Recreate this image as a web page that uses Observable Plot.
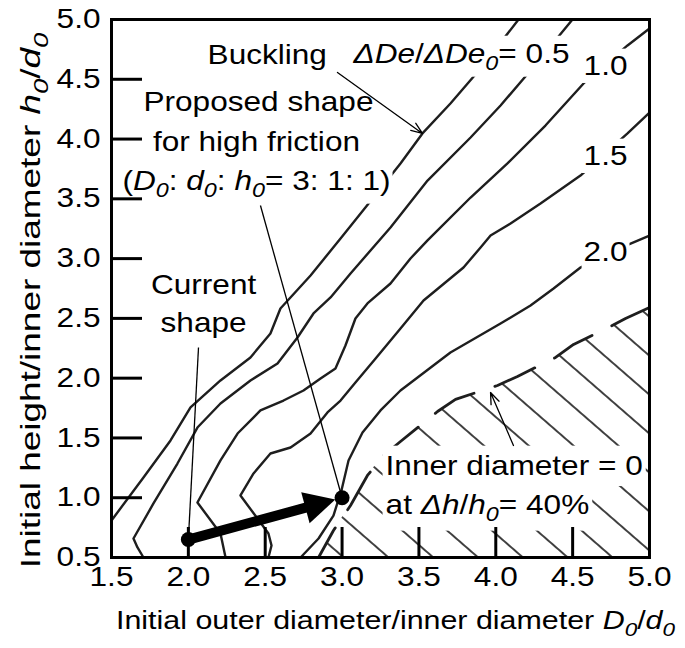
<!DOCTYPE html>
<html><head><meta charset="utf-8">
<script src="https://cdn.jsdelivr.net/npm/d3@7"></script>
<script src="https://cdn.jsdelivr.net/npm/@observablehq/plot@0.6"></script>
<style>
html,body{margin:0;padding:0;background:#fff;}
#chart svg{display:block;}
</style></head><body><div id="chart"></div>
<script>
// ---------- axis ticks ----------
const xTicks = [1.5, 2.0, 2.5, 3.0, 3.5, 4.0, 4.5, 5.0];
const yTicks = [0.5, 1.0, 1.5, 2.0, 2.5, 3.0, 3.5, 4.0, 4.5, 5.0];
const xTitle = "Initial outer diameter/inner diameter *D*_0_/*d*_0_";
const yTitle = "Initial height/inner diameter *h*_0_/*d*_0_";

// ---------- contour lines (x = D0/d0, y = h0/d0) ----------
const buckX = [1.500, 1.708, 1.884, 2.014, 2.209, 2.404, 2.534, 2.599, 2.795, 2.990, 3.204, 3.380, 3.523, 3.705, 3.901, 4.148];
const buckY = [0.810, 1.169, 1.479, 1.755, 1.981, 2.173, 2.374, 2.583, 2.859, 3.168, 3.511, 3.796, 4.047, 4.297, 4.590, 5.000];

const c05X = [1.708, 1.669, 1.643, 1.773, 1.929, 2.059, 2.209, 2.404, 2.580, 2.710, 2.814, 2.925, 3.055, 3.315, 3.556, 3.836, 4.031, 4.226, 4.499];
const c05Y = [0.500, 0.584, 0.659, 0.952, 1.286, 1.587, 1.788, 1.981, 2.123, 2.340, 2.541, 2.675, 2.876, 3.260, 3.653, 4.013, 4.281, 4.573, 5.000];

const c10X = [2.242, 2.209, 2.059, 2.209, 2.320, 2.469, 2.619, 2.749, 2.860, 2.957, 3.022, 3.087, 3.165, 3.315, 3.445, 3.556, 3.836, 4.076, 4.323, 4.571, 4.857, 5.000];
const c10Y = [0.500, 0.701, 0.960, 1.312, 1.537, 1.730, 1.813, 1.897, 1.997, 2.081, 2.273, 2.499, 2.625, 2.792, 3.001, 3.152, 3.511, 3.796, 4.113, 4.465, 4.783, 4.925];

const c15X = [2.521, 2.541, 2.521, 2.339, 2.424, 2.534, 2.665, 2.795, 2.905, 2.990, 3.087, 3.218, 3.380, 3.530, 3.790, 3.901, 3.966, 4.096, 4.291, 4.551, 4.857, 5.000];
const c15Y = [0.500, 0.600, 0.701, 1.019, 1.203, 1.370, 1.420, 1.537, 1.713, 1.813, 1.964, 2.165, 2.416, 2.650, 2.926, 3.093, 3.193, 3.294, 3.461, 3.695, 4.047, 4.222];

const c20X = [2.730, 2.847, 2.944, 2.996, 3.042, 3.133, 3.250, 3.380, 3.705, 4.031, 4.226, 4.376, 4.551, 4.727, 5.000];
const c20Y = [0.500, 0.659, 0.851, 1.061, 1.312, 1.546, 1.730, 1.897, 2.215, 2.457, 2.608, 2.750, 2.926, 3.043, 3.193];

// inner diameter = 0 at 40 % reduction (dashed boundary, hatched below)
const innerX = [2.847, 2.944, 3.055, 3.165, 3.270, 3.380, 3.621, 3.738, 4.011, 4.141, 4.389, 4.506, 4.733, 4.844, 5.000];
const innerY = [0.500, 0.726, 0.935, 1.186, 1.353, 1.470, 1.721, 1.822, 1.939, 2.014, 2.173, 2.282, 2.424, 2.499, 2.591];

// ---------- shapes ----------
const shapeName = ["Current", "Proposed"];
const shapeX = [2.0, 3.0];
const shapeY = [0.65, 1.0];

// ---------- labels ----------
const startText = ["Buckling", "*ΔDe*/*ΔDe*_0_= 0.5", "Inner diameter = 0", "at *Δh*/*h*_0_= 40%"];
const startX = [2.125, 3.074, 3.283, 3.283];
const startY = [4.624, 4.640, 1.186, 0.868];

const midText = ["Proposed shape", "for high friction", "(*D*_0_: *d*_0_: *h*_0_= 3: 1: 1)", "Current", "shape", "1.0", "1.5", "2.0"];
const midX = [2.456, 2.443, 2.443, 2.099, 2.099, 4.714, 4.714, 4.714];
const midY = [4.231, 3.904, 3.578, 2.708, 2.382, 4.532, 3.779, 2.984];

// ---------- pointers ----------
const ptrX1 = [2.970, 4.115, 2.469, 2.066];
const ptrY1 = [4.557, 1.437, 3.444, 2.257];
const ptrX2 = [3.523, 3.966, 3.000, 2.000];
const ptrY2 = [4.047, 1.880, 1.000, 0.650];
const ptrHead = [true, true, false, false];

// ---------- build tables ----------
const zip = (id, xs, ys) => xs.map((x, i) => ({id, x, y: ys[i]}));
const contourRows = [
  ...zip("buckling", buckX, buckY),
  ...zip("0.5", c05X, c05Y),
  ...zip("1.0", c10X, c10Y),
  ...zip("1.5", c15X, c15Y),
  ...zip("2.0", c20X, c20Y)
];
const innerRows = zip("inner", innerX, innerY);
const startRows = startText.map((t, i) => ({t, x: startX[i], y: startY[i]}));
const midRows = midText.map((t, i) => ({t, x: midX[i], y: midY[i]}));
const ptrRows = ptrX1.map((x1, i) => ({x1, y1: ptrY1[i], x2: ptrX2[i], y2: ptrY2[i], head: ptrHead[i]}));
const shapeRows = shapeName.map((n, i) => ({n, x: shapeX[i], y: shapeY[i]}));
const moveRows = [{x1: shapeX[0], y1: shapeY[0], x2: shapeX[1], y2: shapeY[1]}];

// ---------- layout ----------
const W = 685, H = 648, mL = 111, mR = 36, mT = 19, mB = 91;
const xDom = [1.5, 5.0], yDom = [0.5, 5.0];
const kx = (W - mL - mR) / (xDom[1] - xDom[0]);
const ky = (H - mT - mB) / (yDom[1] - yDom[0]);
const theta = Math.atan2(-(shapeY[1] - shapeY[0]) * ky, (shapeX[1] - shapeX[0]) * kx);
const headSymbol = {
  draw(ctx) {
    const c = Math.cos(theta), s = Math.sin(theta);
    const tip = 7, L = 31, hw = 16;
    const tx = -tip * c, ty = -tip * s;
    const bx = tx - L * c, by = ty - L * s;
    ctx.moveTo(tx, ty);
    ctx.lineTo(bx - hw * s, by + hw * c);
    ctx.lineTo(bx + hw * s, by - hw * c);
    ctx.closePath();
  }
};
const FONT = 27;

const svg = Plot.plot({
  width: W, height: H,
  marginLeft: mL, marginRight: mR, marginTop: mT, marginBottom: mB,
  x: {domain: xDom},
  y: {domain: yDom},
  style: {fontFamily: "'Liberation Sans', Arial, sans-serif", fontSize: FONT + "px", background: "white", color: "black"},
  marks: [
    Plot.areaY(innerRows, {x: "x", y1: yDom[0], y2: "y", fill: "url(#hatch)"}),
    Plot.line(contourRows, {x: "x", y: "y", z: "id", stroke: "#1e1e1e", strokeWidth: 2.4, strokeLinejoin: "round"}),
    Plot.line(innerRows, {x: "x", y: "y", stroke: "#1e1e1e", strokeWidth: 2.8, strokeDasharray: "44,22", strokeDashoffset: 10}),
    Plot.text(startRows, {x: "x", y: "y", text: "t", textAnchor: "start", lineAnchor: "bottom", fontSize: FONT, fill: "black"}),
    Plot.text(midRows, {x: "x", y: "y", text: "t", textAnchor: "middle", lineAnchor: "bottom", fontSize: FONT, fill: "black"}),
    Plot.arrow(ptrRows.filter(d => d.head), {x1: "x1", y1: "y1", x2: "x2", y2: "y2", stroke: "black", strokeWidth: 1.3, headLength: 14, headAngle: 42}),
    Plot.link(ptrRows.filter(d => !d.head), {x1: "x1", y1: "y1", x2: "x2", y2: "y2", stroke: "black", strokeWidth: 1.3}),
    Plot.arrow(moveRows, {x1: "x1", y1: "y1", x2: "x2", y2: "y2", stroke: "black", strokeWidth: 10, headLength: 0, insetEnd: 32}),
    Plot.dot(shapeRows.filter(d => d.n === "Proposed"), {x: "x", y: "y", symbol: headSymbol, r: 10, fill: "black", stroke: "none"}),
    Plot.dot(shapeRows, {x: "x", y: "y", r: 7.5, fill: "black", stroke: "none"}),
    Plot.ruleX(xTicks, {x: d => d, y1: yDom[0], y2: yDom[0] + 30 / ky, stroke: "black", strokeWidth: 3}),
    Plot.ruleY(yTicks, {y: d => d, x1: xDom[0], x2: xDom[0] + 31 / kx, stroke: "black", strokeWidth: 3}),
    Plot.frame({stroke: "black", strokeWidth: 3}),
    Plot.axisX(xTicks, {tickSize: 0, tickPadding: 9, tickFormat: d3.format(".1f"), label: null, fontSize: FONT}),
    Plot.axisY(yTicks, {tickSize: 0, tickPadding: 11, tickFormat: d3.format(".1f"), label: null, fontSize: FONT}),
    Plot.text([xTitle], {text: d => d, frameAnchor: "bottom", dy: 71, dx: 15, lineAnchor: "bottom", fontSize: 26}),
    Plot.text([yTitle], {text: d => d, frameAnchor: "left", dx: -80, dy: 12, rotate: -90, lineAnchor: "middle", textAnchor: "middle", fontSize: 28})
  ]
});

document.getElementById("chart").appendChild(svg);

const NS = "http://www.w3.org/2000/svg";
// hatch pattern
const defs = document.createElementNS(NS, "defs");
defs.innerHTML = '<pattern id="hatch" patternUnits="userSpaceOnUse" width="40" height="29.4" patternTransform="translate(0,5.5) rotate(41)">' +
  '<line x1="-5" y1="14.7" x2="45" y2="14.7" stroke="black" stroke-width="1.3"/></pattern>';
svg.insertBefore(defs, svg.firstChild);

// white boxes behind the annotation labels, as in the reference
const boxPad = new Map([...startText, ...midText].map(t => [t, [2, 2]]));
boxPad.set("Inner diameter = 0", [3, 5]);
boxPad.set("at *Δh*/*h*_0_= 40%", [3, 5]);

// rich text: *italic*, _italic subscript_
function richify(el) {
  const s = el.textContent;
  if (!/[*_]/.test(s)) return;
  const size = parseFloat(getComputedStyle(el).fontSize) || FONT;
  const shift = 0.28 * size;
  el.textContent = "";
  const re = /\*([^*]+)\*|_([^_]+)_|([^*_]+)/g;
  let m, lowered = false;
  while ((m = re.exec(s))) {
    const t = document.createElementNS(NS, "tspan");
    if (m[2] !== undefined) {
      t.textContent = m[2];
      t.setAttribute("font-style", "italic");
      t.setAttribute("font-size", (0.74 * size) + "px");
      if (!lowered) { t.setAttribute("dy", shift); lowered = true; }
    } else {
      t.textContent = m[1] !== undefined ? m[1] : m[3];
      if (m[1] !== undefined) t.setAttribute("font-style", "italic");
      if (lowered) { t.setAttribute("dy", -shift); lowered = false; }
    }
    el.appendChild(t);
  }
}

const boxGroup = document.createElementNS(NS, "g");
boxGroup.setAttribute("fill", "white");
let firstAnnoGroup = null;
svg.querySelectorAll("text").forEach(el => {
  const orig = el.textContent;
  const isYTitle = orig === yTitle;
  const parent = el.parentNode;
  const isAnno = boxPad.has(orig) && parent.getAttribute("aria-label") === "text";
  richify(el);
  // the reference lettering is wider than Arial
  let tr = el.getAttribute("transform");
  if (!tr) {
    const x = el.getAttribute("x") || 0, y = el.getAttribute("y") || 0;
    el.removeAttribute("x"); el.removeAttribute("y");
    tr = `translate(${x},${y})`;
  }
  const sx = isYTitle ? 1.32 : 1.17;
  el.setAttribute("transform", tr + ` scale(${sx},1)`);
  if (isAnno) {
    if (!firstAnnoGroup) firstAnnoGroup = parent;
    const bb = el.getBBox();
    const [px, py] = boxPad.get(orig);
    const dyAttr = el.getAttribute("dy");
    const r = document.createElementNS(NS, "rect");
    r.setAttribute("x", bb.x - px / sx);
    r.setAttribute("y", bb.y - py);
    r.setAttribute("width", bb.width + 2 * px / sx);
    r.setAttribute("height", bb.height + 2 * py);
    const gtr = parent.getAttribute("transform");
    r.setAttribute("transform", (gtr ? gtr + " " : "") + el.getAttribute("transform"));
    boxGroup.appendChild(r);
  }
});
if (firstAnnoGroup) firstAnnoGroup.parentNode.insertBefore(boxGroup, firstAnnoGroup);
</script>
</body></html>
